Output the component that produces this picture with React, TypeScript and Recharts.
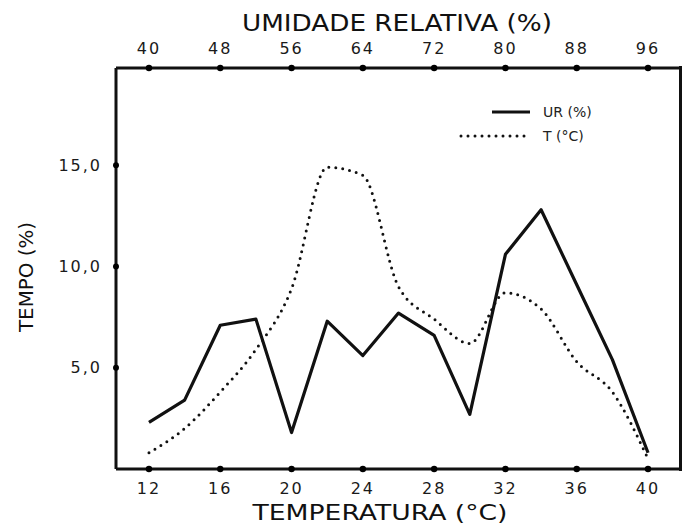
import { LineChart, Line, XAxis, YAxis, Label } from "recharts"

// temperatura (°C) on the bottom axis; the top axis is UR (%) = 2*T + 16
const temperatura = [12, 14, 16, 18, 20, 22, 24, 26, 28, 30, 32, 34, 36, 38, 40]
const urSerie = [2.3, 3.4, 7.1, 7.4, 1.8, 7.3, 5.6, 7.7, 6.6, 2.7, 10.6, 12.8, 9.1, 5.4, 0.8]
const tSerie = [0.8, 2.0, 3.8, 5.9, 8.9, 14.9, 14.5, 9.0, 7.4, 6.2, 8.7, 7.9, 5.3, 3.8, 0.5]

const ticksTemperatura = [12, 16, 20, 24, 28, 32, 36, 40]
const ticksUmidade = [40, 48, 56, 64, 72, 80, 88, 96]
const ticksTempo = [5, 10, 15]

const data = temperatura.map((t, i) => ({ t, u: 2 * t + 16, ur: urSerie[i], temp: tSerie[i] }))

const FONT = "'DejaVu Sans', sans-serif"
const TICK_GAP = 14 // tickSize + tickMargin
const frame = { stroke: "#111", strokeWidth: 3 }

const fmt = (v: number) => v.toFixed(1).replace(".", ",")

// tick label plus a small dot on the frame, like the printed original
function BottomTick({ x, y, payload }: any) {
  return (
    <g>
      <circle cx={x} cy={y - TICK_GAP} r={3.2} fill="#000" />
      <text x={x} y={y} dy="0.71em" textAnchor="middle" fontFamily={FONT} fontSize={16} letterSpacing={2} fill="#1a1a1a">
        {payload.value}
      </text>
    </g>
  )
}

function TopTick({ x, y, payload }: any) {
  return (
    <g>
      <circle cx={x} cy={y + TICK_GAP} r={3.2} fill="#000" />
      <text x={x} y={y} textAnchor="middle" fontFamily={FONT} fontSize={16} letterSpacing={2} fill="#1a1a1a">
        {payload.value}
      </text>
    </g>
  )
}

function LeftTick({ x, y, payload }: any) {
  return (
    <g>
      <circle cx={x + TICK_GAP} cy={y} r={3} fill="#000" />
      <text x={x} y={y} dy="0.355em" textAnchor="end" fontFamily={FONT} fontSize={16} letterSpacing={2} fill="#1a1a1a">
        {fmt(payload.value)}
      </text>
    </g>
  )
}

function Title({ x, y, text, size, length, rotate }: any) {
  return (
    <text
      x={x}
      y={y}
      textAnchor="middle"
      fontFamily={FONT}
      fontSize={size}
      fill="#111"
      textLength={length}
      lengthAdjust="spacingAndGlyphs"
      transform={rotate ? `rotate(-90 ${x} ${y})` : undefined}
    >
      {text}
    </text>
  )
}

function Legenda() {
  return (
    <div style={{ position: "absolute", left: 455, top: 100, fontFamily: FONT, fontSize: 14, color: "#222" }}>
      <div style={{ display: "flex", alignItems: "center", height: 24 }}>
        <svg width={80} height={10}>
          <line x1={37} y1={5} x2={75} y2={5} stroke="#111" strokeWidth={3} />
        </svg>
        <span style={{ marginLeft: 8 }}>UR (%)</span>
      </div>
      <div style={{ display: "flex", alignItems: "center", height: 24 }}>
        <svg width={80} height={10}>
          <line x1={6} y1={5} x2={75} y2={5} stroke="#111" strokeWidth={3} strokeDasharray="0 7" strokeLinecap="round" />
        </svg>
        <span style={{ marginLeft: 8 }}>T (°C)</span>
      </div>
    </div>
  )
}

export default function App() {
  return (
    <div style={{ position: "absolute", left: 0, top: 0, width: 683, height: 527, background: "#fff" }}>
      <LineChart width={683} height={527} data={data} margin={{ top: 0, right: 2, bottom: 0, left: 0 }}>
        <XAxis
          xAxisId="temp"
          dataKey="t"
          type="number"
          domain={[10.15, 41.85]}
          ticks={ticksTemperatura}
          height={58}
          axisLine={frame}
          tickLine={false}
          tickSize={5}
          tickMargin={9}
          tick={<BottomTick />}
          allowDataOverflow
        >
          <Label content={() => <Title x={380} y={520} text="TEMPERATURA (°C)" size={21} length={255} />} />
        </XAxis>
        <XAxis
          xAxisId="ur"
          dataKey="u"
          orientation="top"
          type="number"
          domain={[36.3, 99.7]}
          ticks={ticksUmidade}
          height={68}
          axisLine={frame}
          tickLine={false}
          tickSize={5}
          tickMargin={9}
          tick={<TopTick />}
          allowDataOverflow
        >
          <Label content={() => <Title x={397} y={31} text="UMIDADE RELATIVA (%)" size={23} length={310} />} />
        </XAxis>
        <YAxis
          yAxisId="tempo"
          type="number"
          domain={[0, 19.8]}
          ticks={ticksTempo}
          width={116}
          axisLine={frame}
          tickLine={false}
          tickSize={5}
          tickMargin={9}
          tick={<LeftTick />}
          allowDataOverflow
        >
          <Label content={() => <Title x={33} y={277} text="TEMPO (%)" size={20} length={110} rotate />} />
        </YAxis>
        {/* invisible series so the top axis gets its scale */}
        <Line
          xAxisId="ur"
          yAxisId="tempo"
          dataKey="ur"
          stroke="none"
          dot={false}
          activeDot={false}
          legendType="none"
          isAnimationActive={false}
        />
        <Line
          xAxisId="temp"
          yAxisId="tempo"
          dataKey="ur"
          type="linear"
          stroke="#111"
          strokeWidth={3.2}
          strokeLinejoin="round"
          dot={false}
          isAnimationActive={false}
        />
        <Line
          xAxisId="temp"
          yAxisId="tempo"
          dataKey="temp"
          type="monotone"
          stroke="#111"
          strokeWidth={3}
          strokeDasharray="0 7"
          strokeLinecap="round"
          dot={false}
          isAnimationActive={false}
        />
      </LineChart>
      {/* right edge of the frame */}
      <div style={{ position: "absolute", left: 679, top: 66, width: 3, height: 405, background: "#111" }} />
      <Legenda />
    </div>
  )
}
